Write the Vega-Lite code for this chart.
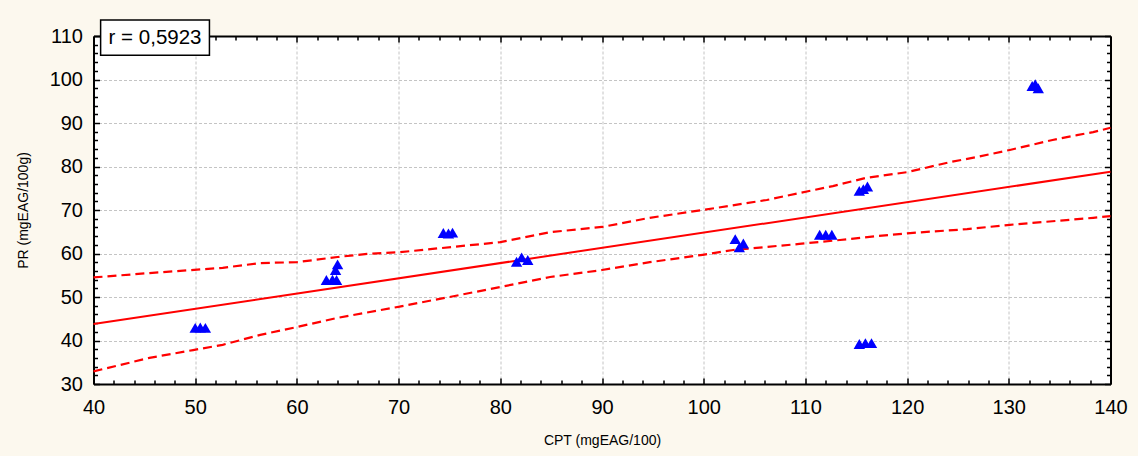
{
  "$schema": "https://vega.github.io/schema/vega-lite/v6.json",
  "width": 1017,
  "height": 348,
  "autosize": {"type": "none"},
  "padding": {"left": 93.5, "top": 36, "right": 27, "bottom": 72},
  "background": "#fcf8ee",
  "config": {"view": {"stroke": null, "fill": "white"}, "font": "Liberation Sans"},
  "datasets": {
    "points": [
      {"cpt": 50.0, "pr": 42.9}, {"cpt": 50.5, "pr": 43.0}, {"cpt": 51.0, "pr": 42.9},
      {"cpt": 62.9, "pr": 53.9}, {"cpt": 63.5, "pr": 54.0}, {"cpt": 63.9, "pr": 53.9},
      {"cpt": 63.8, "pr": 56.2}, {"cpt": 64.0, "pr": 57.5},
      {"cpt": 74.4, "pr": 64.7}, {"cpt": 74.9, "pr": 64.6}, {"cpt": 75.3, "pr": 64.8},
      {"cpt": 81.6, "pr": 58.1}, {"cpt": 82.1, "pr": 59.1}, {"cpt": 82.7, "pr": 58.5},
      {"cpt": 103.1, "pr": 63.3}, {"cpt": 103.9, "pr": 62.3}, {"cpt": 103.5, "pr": 61.4},
      {"cpt": 111.4, "pr": 64.3}, {"cpt": 112.0, "pr": 64.3}, {"cpt": 112.6, "pr": 64.3},
      {"cpt": 115.3, "pr": 74.4}, {"cpt": 115.7, "pr": 74.8}, {"cpt": 116.1, "pr": 75.4},
      {"cpt": 115.3, "pr": 39.2}, {"cpt": 115.9, "pr": 39.4}, {"cpt": 116.5, "pr": 39.4},
      {"cpt": 132.3, "pr": 98.5}, {"cpt": 132.6, "pr": 98.9}, {"cpt": 132.9, "pr": 98.0}
    ],
    "regression": [
      {"cpt": 40, "pr": 43.8}, {"cpt": 140, "pr": 78.8}
    ],
    "bands": [
      {"band": "upper", "cpt": 40, "pr": 54.5},
      {"band": "upper", "cpt": 45.5, "pr": 55.5},
      {"band": "upper", "cpt": 52.7, "pr": 56.7},
      {"band": "upper", "cpt": 56.4, "pr": 57.8},
      {"band": "upper", "cpt": 60.0, "pr": 58.0},
      {"band": "upper", "cpt": 64.0, "pr": 59.2},
      {"band": "upper", "cpt": 66.9, "pr": 59.9},
      {"band": "upper", "cpt": 70.1, "pr": 60.3},
      {"band": "upper", "cpt": 80.0, "pr": 62.6},
      {"band": "upper", "cpt": 84.9, "pr": 64.9},
      {"band": "upper", "cpt": 90.0, "pr": 66.1},
      {"band": "upper", "cpt": 94.7, "pr": 68.2},
      {"band": "upper", "cpt": 99.9, "pr": 70.0},
      {"band": "upper", "cpt": 106.2, "pr": 72.3},
      {"band": "upper", "cpt": 109.4, "pr": 73.9},
      {"band": "upper", "cpt": 112.7, "pr": 75.5},
      {"band": "upper", "cpt": 116.0, "pr": 77.4},
      {"band": "upper", "cpt": 120.0, "pr": 78.7},
      {"band": "upper", "cpt": 124.2, "pr": 81.0},
      {"band": "upper", "cpt": 126.9, "pr": 82.2},
      {"band": "upper", "cpt": 130.1, "pr": 83.8},
      {"band": "upper", "cpt": 134.3, "pr": 86.1},
      {"band": "upper", "cpt": 136.7, "pr": 87.2},
      {"band": "upper", "cpt": 138.3, "pr": 87.9},
      {"band": "upper", "cpt": 140, "pr": 88.9},
      {"band": "lower", "cpt": 40, "pr": 32.9},
      {"band": "lower", "cpt": 45.5, "pr": 36.0},
      {"band": "lower", "cpt": 49.8, "pr": 37.8},
      {"band": "lower", "cpt": 52.7, "pr": 39.0},
      {"band": "lower", "cpt": 56.4, "pr": 41.3},
      {"band": "lower", "cpt": 60.0, "pr": 43.1},
      {"band": "lower", "cpt": 64.0, "pr": 45.2},
      {"band": "lower", "cpt": 70.1, "pr": 47.8},
      {"band": "lower", "cpt": 75.0, "pr": 50.0},
      {"band": "lower", "cpt": 80.0, "pr": 52.3},
      {"band": "lower", "cpt": 84.9, "pr": 54.6},
      {"band": "lower", "cpt": 90.0, "pr": 56.2},
      {"band": "lower", "cpt": 94.7, "pr": 58.0},
      {"band": "lower", "cpt": 99.9, "pr": 59.7},
      {"band": "lower", "cpt": 102.9, "pr": 60.8},
      {"band": "lower", "cpt": 109.4, "pr": 62.2},
      {"band": "lower", "cpt": 113.4, "pr": 63.1},
      {"band": "lower", "cpt": 117.0, "pr": 64.0},
      {"band": "lower", "cpt": 120.3, "pr": 64.7},
      {"band": "lower", "cpt": 125.9, "pr": 65.6},
      {"band": "lower", "cpt": 130.1, "pr": 66.6},
      {"band": "lower", "cpt": 134.7, "pr": 67.5},
      {"band": "lower", "cpt": 138.3, "pr": 68.2},
      {"band": "lower", "cpt": 140, "pr": 68.6}
    ],
    "note": [{"label": "r = 0,5923"}]
  },
  "layer": [
    {
      "data": {"name": "bands"},
      "mark": {"type": "line", "color": "#ff0000", "strokeWidth": 2.2, "strokeDash": [9, 5]},
      "encoding": {
        "x": {
          "field": "cpt", "type": "quantitative",
          "scale": {"domain": [40, 140], "nice": false, "zero": false},
          "axis": {
            "orient": "bottom",
            "values": [40,42,44,46,48,50,52,54,56,58,60,62,64,66,68,70,72,74,76,78,80,82,84,86,88,90,92,94,96,98,100,102,104,106,108,110,112,114,116,118,120,122,124,126,128,130,132,134,136,138,140],
            "labelExpr": "datum.value % 10 === 0 ? datum.label : ''",
            "labelFont": "Liberation Sans", "labelFontSize": 20, "labelColor": "black",
            "labelPadding": 19, "labelOverlap": false, "labelFlush": false,
            "tickColor": "black", "tickWidth": 1.5,
            "tickSize": {"condition": {"test": "datum.value % 10 === 0", "value": -6}, "value": -4},
            "grid": true, "gridColor": "#c4c4c4", "gridDash": [3, 2], "gridWidth": 1,
            "gridOpacity": {"condition": {"test": "datum.value % 10 === 0", "value": 1}, "value": 0},
            "domainColor": "black", "domainWidth": 2,
            "title": "CPT (mgEAG/100)", "titleFont": "Liberation Sans", "titleFontSize": 14,
            "titleFontWeight": "normal", "titleColor": "black", "titlePadding": 14
          }
        },
        "y": {
          "field": "pr", "type": "quantitative",
          "scale": {"domain": [30, 110], "nice": false, "zero": false},
          "axis": {
            "orient": "left",
            "values": [30,32,34,36,38,40,42,44,46,48,50,52,54,56,58,60,62,64,66,68,70,72,74,76,78,80,82,84,86,88,90,92,94,96,98,100,102,104,106,108,110],
            "labelExpr": "datum.value % 10 === 0 ? datum.label : ''",
            "labelFont": "Liberation Sans", "labelFontSize": 20, "labelColor": "black",
            "labelPadding": 17, "labelOverlap": false, "labelFlush": false,
            "tickColor": "black", "tickWidth": 1.5,
            "tickSize": {"condition": {"test": "datum.value % 10 === 0", "value": -6}, "value": -4},
            "grid": true, "gridColor": "#c4c4c4", "gridDash": [3, 2], "gridWidth": 1,
            "gridOpacity": {"condition": {"test": "datum.value % 10 === 0", "value": 1}, "value": 0},
            "domainColor": "black", "domainWidth": 2,
            "title": "PR (mgEAG/100g)", "titleFont": "Liberation Sans", "titleFontSize": 14,
            "titleFontWeight": "normal", "titleColor": "black", "titlePadding": 19
          }
        },
        "detail": {"field": "band", "type": "nominal"}
      }
    },
    {
      "data": {"name": "regression"},
      "mark": {"type": "line", "color": "#ff0000", "strokeWidth": 2},
      "encoding": {
        "x": {
          "field": "cpt", "type": "quantitative",
          "axis": {
            "orient": "top",
            "values": [40,42,44,46,48,50,52,54,56,58,60,62,64,66,68,70,72,74,76,78,80,82,84,86,88,90,92,94,96,98,100,102,104,106,108,110,112,114,116,118,120,122,124,126,128,130,132,134,136,138,140],
            "labels": false, "grid": false, "title": null,
            "tickColor": "black", "tickWidth": 1.5,
            "tickSize": {"condition": {"test": "datum.value % 10 === 0", "value": -6}, "value": -4},
            "domainColor": "black", "domainWidth": 2
          }
        },
        "y": {
          "field": "pr", "type": "quantitative",
          "axis": {
            "orient": "right",
            "values": [30,32,34,36,38,40,42,44,46,48,50,52,54,56,58,60,62,64,66,68,70,72,74,76,78,80,82,84,86,88,90,92,94,96,98,100,102,104,106,108,110],
            "labels": false, "grid": false, "title": null,
            "tickColor": "black", "tickWidth": 1.5,
            "tickSize": {"condition": {"test": "datum.value % 10 === 0", "value": -6}, "value": -4},
            "domainColor": "black", "domainWidth": 2
          }
        }
      }
    },
    {
      "data": {"name": "points"},
      "mark": {"type": "point", "shape": "triangle-up", "filled": true, "color": "#0000ff", "opacity": 1, "size": 130},
      "encoding": {
        "x": {"field": "cpt", "type": "quantitative", "axis": null},
        "y": {"field": "pr", "type": "quantitative", "axis": null}
      }
    },
    {
      "data": {"name": "note"},
      "mark": {"type": "rect", "fill": "white", "stroke": "black", "strokeWidth": 1.5},
      "encoding": {
        "x": {"datum": 40.7, "type": "quantitative", "axis": null},
        "x2": {"datum": 51.4},
        "y": {"datum": 113.7, "type": "quantitative", "axis": null},
        "y2": {"datum": 105.6}
      }
    },
    {
      "data": {"name": "note"},
      "mark": {"type": "text", "font": "Liberation Sans", "fontSize": 20.5, "color": "black", "align": "center", "baseline": "middle"},
      "encoding": {
        "x": {"datum": 46.05, "type": "quantitative", "axis": null},
        "y": {"datum": 109.65, "type": "quantitative", "axis": null},
        "text": {"field": "label", "type": "nominal"}
      }
    }
  ],
  "resolve": {"axis": {"x": "independent", "y": "independent"}}
}
